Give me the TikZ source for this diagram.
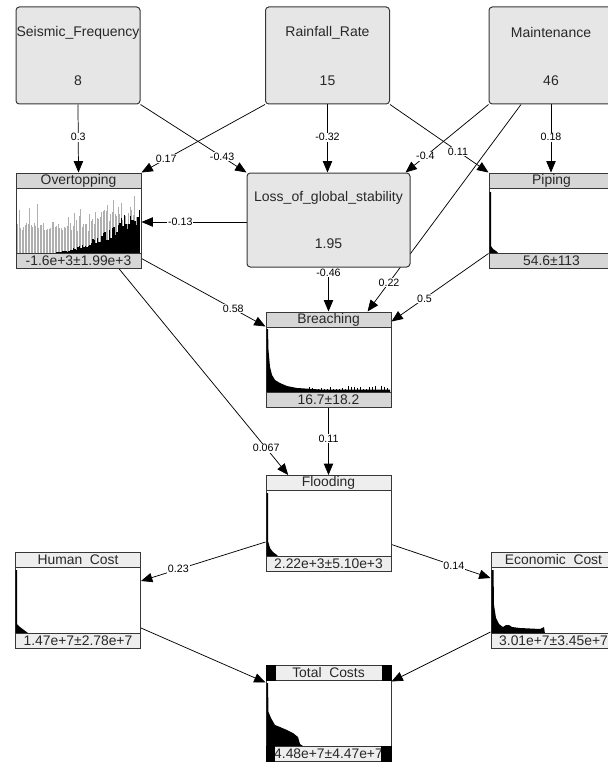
\documentclass[tikz,border=0pt]{standalone}
\usepackage{fontspec}
\setmainfont{Liberation Sans}
\usetikzlibrary{arrows.meta,calc,positioning}

\definecolor{nodefill}{RGB}{230,230,230}
\definecolor{bardark}{RGB}{214,214,214}
\definecolor{barlight}{RGB}{238,238,238}
\definecolor{histgray}{RGB}{175,175,175}
\definecolor{boxline}{RGB}{55,55,55}
\definecolor{textgray}{RGB}{40,40,40}

\pgfdeclarelayer{edges}
\pgfsetlayers{edges,main}

\tikzset{every picture/.style={line width=0.75pt}}
\tikzset{
  varbox/.style={draw=boxline, fill=nodefill, rounded corners=2.5pt, inner sep=0pt,
    minimum width=93pt, minimum height=72.75pt},
  histbox/.style={draw=boxline, fill=white, inner sep=0pt,
    minimum width=93.75pt, minimum height=71.25pt},
  titlebar/.style={draw=boxline, fill=#1, inner sep=0pt, text=textgray,
    minimum width=93.75pt, minimum height=11.25pt, font=\fontsize{10.4}{10}\selectfont},
  titlebar/.default=bardark,
  boxtext/.style={inner sep=0pt, text=textgray, font=\fontsize{10.5}{12}\selectfont},
  link/.style={draw=black, line width=0.55pt, -{Triangle[length=8.5pt,width=7pt]}},
  wlabel/.style={fill=white, inner sep=0.6pt, text=black, font=\fontsize{8}{8}\selectfont},
}

\begin{document}
\begin{tikzpicture}[x=0.75pt,y=0.75pt,yscale=-1,xscale=1]
\useasboundingbox (0,0) rectangle (607,763);

%Shape: top variables
\node[varbox] (seis) at (78,55.5) {};
\node[varbox] (rain) at (327.5,55.5) {};
\node[varbox] (maint) at (551,55.5) {};
\node[boxtext] (seistxt) at ($(seis.north)+(0,26)$) {Seismic\_Frequency};
\node[boxtext] (seisval) at ($(seis.south)+(0,-24)$) {8};
\node[boxtext] (raintxt) at ($(rain.north)+(0,26)$) {Rainfall\_Rate};
\node[boxtext] (rainval) at ($(rain.south)+(0,-24)$) {15};
\node[boxtext] (mainttxt) at ($(maint.north)+(0,26)$) {Maintenance};
\node[boxtext] (maintval) at ($(maint.south)+(0,-24)$) {46};

%Shape: loss of global stability
\node[varbox, minimum width=122.25pt, minimum height=70.5pt] (loss) at (328.5,220) {};
\node[boxtext] (losstxt) at ($(loss.north)+(0,25)$) {Loss\_of\_global\_stability};
\node[boxtext] (lossval) at ($(loss.south)+(0,-24)$) {1.95};

%Shape: histogram nodes
\node[histbox] (over) at (78.5,220.5) {};
\node[histbox] (pipe) at (551.5,220.5) {};
\node[histbox] (breach) at (328.5,359.5) {};
\node[histbox, minimum height=72pt] (flood) at (328.5,523.5) {};
\node[histbox, minimum height=72pt] (human) at (78,600) {};
\node[histbox, minimum height=72pt] (econ) at (553.5,600) {};
\node[histbox, minimum height=72pt] (total) at (328.5,713) {};

%Shape: Overtopping histogram
\pgfmathsetseed{7}
\foreach \i in {0,...,81}{
  \pgfmathsetmacro\bx{17+1.5*\i}
  \pgfmathsetmacro\hg{(\bx<88 ? 22+8*rnd : 28+16*rnd) + (rnd>0.8 ? 22*rnd : 0)}
  \pgfmathsetmacro\hg{min(\hg,62)}
  \pgfmathsetmacro\hb{\bx>45 ? 48*((\bx-45)/95)^2*(0.6+0.6*rnd) : 0}
  \pgfmathsetmacro\hb{min(\hb,62)}
  \fill[histgray] (\bx,253) rectangle ++(1.1,-\hg);
  \fill[black] (\bx,253) rectangle ++(1.5,-\hb);
}
%Shape: Breaching histogram
\fill (266.5,393) -- (266.5,329) -- (268,329) -- (268.5,350) -- (270,367) -- (272,375) -- (275,380) -- (280,383) -- (287,386) -- (297,388) -- (320,389.5) -- (390,389.5) -- (390,393) -- cycle;
\foreach \i in {0,...,29}{
  \pgfmathsetmacro\bx{300+3*\i}
  \pgfmathsetmacro\hb{3+5*rnd}
  \fill (\bx,393) rectangle ++(1,-\hb);
}
%Shape: Piping histogram
\fill (489.5,253) -- (489.5,192) -- (491,192) -- (491,246) -- (493,249) -- (496,251) -- (498,253) -- cycle;
%Shape: Flooding histogram
\fill (266.5,557) -- (266.5,493) -- (268,493) -- (268,541) -- (270,548) -- (273,552) -- (277,555) -- (279,557) -- cycle;
%Shape: Human Cost histogram
\fill (15.5,633) -- (15.5,570) -- (17,570) -- (17,624) -- (20,627) -- (24,630) -- (28,633) -- cycle;
%Shape: Economic Cost histogram
\fill (491.5,634) -- (491.5,570) -- (493.5,570) -- (494,605) -- (496,618) -- (499,624) -- (503,627) -- (506,625) -- (509,625) -- (512,627) -- (520,628) -- (540,629) -- (544,627) -- (545,634) -- cycle;
%Shape: Total Costs histogram
\fill (266.5,748) -- (266.5,683) -- (268,683) -- (268.5,712) -- (271,718) -- (275,725) -- (280,727) -- (287,730) -- (293,733) -- (298,737) -- (300,744) -- (303,746) -- (305,748) -- cycle;

%Shape: title and value bars
\node[titlebar, anchor=north] (overtitle) at (over.north) {Overtopping};
\node[titlebar, anchor=south] (overval) at (over.south) {-1.6e+3±1.99e+3};
\node[titlebar, anchor=north] (pipetitle) at (pipe.north) {Piping};
\node[titlebar, anchor=south] (pipeval) at (pipe.south) {54.6±113};
\node[titlebar, anchor=north] (breachtitle) at (breach.north) {Breaching};
\node[titlebar, anchor=south] (breachval) at (breach.south) {16.7±18.2};
\node[titlebar=barlight, anchor=north] (floodtitle) at (flood.north) {Flooding};
\node[titlebar=barlight, anchor=south] (floodval) at (flood.south) {2.22e+3±5.10e+3};
\node[titlebar=barlight, anchor=north] (humantitle) at (human.north) {Human\ \ Cost};
\node[titlebar=barlight, anchor=south] (humanval) at (human.south) {1.47e+7±2.78e+7};
\node[titlebar=barlight, anchor=north] (econtitle) at (econ.north) {Economic\ \ Cost};
\node[titlebar=barlight, anchor=south] (econval) at (econ.south) {3.01e+7±3.45e+7};
\node[titlebar=barlight, anchor=north] (totaltitle) at (total.north) {Total\ \ Costs};
\node[titlebar=barlight, anchor=south] (totalval) at (total.south) {4.48e+7±4.47e+7};
\fill[black] (totaltitle.north west) rectangle ($(totaltitle.south west)+(10,0)$);
\fill[black] (totaltitle.north east) rectangle ($(totaltitle.south east)+(-10,0)$);
\fill[black] (totalval.north west) rectangle ($(totalval.south west)+(9,0)$);
\fill[black] (totalval.north east) rectangle ($(totalval.south east)+(-11,0)$);

%Straight Lines: connectors
\begin{pgfonlayer}{edges}
\draw[link] (seis.south) -- (over.north) node[wlabel, pos=0.48] {0.3};
\draw[link] (rain.south west) -- (over.north east) node[wlabel, pos=0.8] {0.17};
\draw[link] (seis.south east) -- (loss.north west) node[wlabel, pos=0.77] {-0.43};
\draw[link] (rain.south) -- (rain.south |- loss.north) node[wlabel, pos=0.48] {-0.32};
\draw[link] (maint.south west) -- ([xshift=-3.75pt]loss.north east) node[wlabel, pos=0.76] {-0.4};
\draw[link] (rain.south east) -- (pipe.north west) node[wlabel, pos=0.69] {0.11};
\draw[link] (maint.south) -- (maint.south |- pipe.north) node[wlabel, pos=0.48] {0.18};
\draw[link] ($(loss.west)+(0,2)$) -- ($(loss.west -| over.east)+(0,2)$) node[wlabel, pos=0.63] {-0.13};
\draw[link] ($(over.south east)+(0,-10)$) -- ($(breach.north west)+(0,15)$) node[wlabel, pos=0.74] {0.58};
\draw[link] (loss.south) -- (breach.north) node[wlabel, pos=0.12] {-0.46};
\draw[link] ($(maint.south west)!0.26!(maint.south east)$) -- ($(breach.north west)!0.81!(breach.north east)$) node[wlabel, pos=0.86] {0.22};
\draw[link] ($(pipe.south west)+(0,-15)$) -- ($(breach.north east)+(0,10)$) node[wlabel, pos=0.66] {0.5};
\draw[link] ($(over.south west)!0.82!(over.south east)$) -- ($(flood.north west)!0.18!(flood.north east)$) node[wlabel, pos=0.87] {0.067};
\draw[link] (breach.south) -- (flood.north) node[wlabel, pos=0.46] {0.11};
\draw[link] ($(flood.west)+(0,18.5)$) -- ($(human.east)+(0,-19)$) node[wlabel, pos=0.7] {0.23};
\draw[link] ($(flood.east)+(0,21)$) -- ($(econ.west)+(0,-22)$) node[wlabel, pos=0.63] {0.14};
\draw[link] ($(human.east)+(0,28)$) -- ($(total.north west)+(0,18)$);
\draw[link] ($(econ.west)+(0,32)$) -- ($(total.north east)+(0,17)$);
\end{pgfonlayer}

\end{tikzpicture}
\end{document}
